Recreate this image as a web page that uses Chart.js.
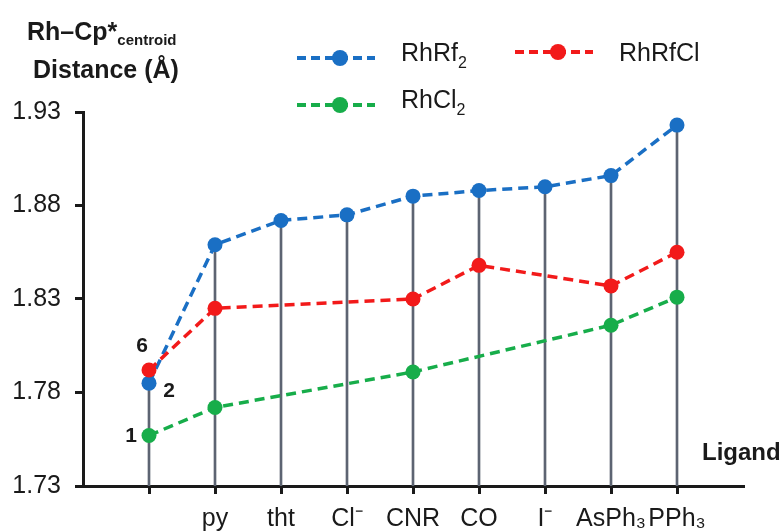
<!DOCTYPE html>
<html lang="en">
<head>
  <meta charset="UTF-8" />
  <title>Rh–Cp* centroid distance by ligand</title>
  <script src="https://cdn.jsdelivr.net/npm/chart.js"></script>
  <style>
    body { margin: 0; background: #fff; font-family: "Liberation Sans", Arial, sans-serif; color: #1a1a1a; }
    #wrap { position: relative; width: 783px; height: 531px; }
    #grafico { position: absolute; left: 0; top: 0; }
    .txt { position: absolute; white-space: nowrap; line-height: 30px; }
    .bold { font-weight: bold; font-size: 25px; }
    .bold sub { font-size: 15px; vertical-align: -5px; }
    .leg { position: absolute; display: flex; align-items: center; font-size: 25px; line-height: 30px; }
    .leg svg { margin-right: 26px; }
    .leg sub { font-size: 16px; vertical-align: -7px; }
  </style>
</head>
<body>
  <div id="wrap">
    <canvas id="grafico" width="783" height="531"></canvas>
    <div class="txt bold" style="left:27px; top:16px;">Rh–Cp*<sub>centroid</sub></div>
    <div class="txt bold" style="left:33px; top:54px;">Distance (Å)</div>
    <div class="txt bold" style="left:702px; top:437px; font-size:24px;">Ligand</div>
    <div id="legenda"></div>
  </div>

  <script>
    // categorias (ligantes) e valores
    const ligantes = ['', 'py', 'tht', 'Cl⁻', 'CNR', 'CO', 'I⁻', 'AsPh₃', 'PPh₃'];
    const rhRf2 = [1.785, 1.859, 1.872, 1.875, 1.885, 1.888, 1.890, 1.896, 1.923];
    const rhRfCl = [1.792, 1.825, null, null, 1.830, 1.848, null, 1.837, 1.855];
    const rhCl2 = [1.757, 1.772, null, null, 1.791, null, null, 1.816, 1.831];
    const yTicks = [1.73, 1.78, 1.83, 1.88, 1.93];
    const rotulos = [
      { serie: 1, i: 0, texto: '6', dx: -7, dy: -24 },
      { serie: 0, i: 0, texto: '2', dx: 20, dy: 8 },
      { serie: 2, i: 0, texto: '1', dx: -18, dy: 1 }
    ];

    const azul = '#1a6fc4';
    const vermelho = '#f21a1a';
    const verde = '#17ad4a';

    const pontos = arr => arr.map((v, i) => ({ x: i, y: v }));
    // linha vertical até o ponto mais alto de cada ligante
    const topo = ligantes.map((_, i) => Math.max(...[rhRf2[i], rhRfCl[i], rhCl2[i]].filter(v => v !== null)));

    const series = [
      { label: 'RhRf<sub>2</sub>', data: rhRf2, cor: azul, order: 1 },
      { label: 'RhRfCl', data: rhRfCl, cor: vermelho, order: 0 },
      { label: 'RhCl<sub>2</sub>', data: rhCl2, cor: verde, order: 2 }
    ];

    // legenda em HTML (duas colunas)
    const posLeg = [[297, 37], [515, 37], [297, 84]];
    const leg = document.getElementById('legenda');
    series.forEach((s, k) => {
      const d = document.createElement('div');
      d.className = 'leg';
      d.style.left = posLeg[k][0] + 'px';
      d.style.top = posLeg[k][1] + 'px';
      d.innerHTML = `<svg width="78" height="20"><line x1="0" y1="10" x2="78" y2="10" stroke="${s.cor}" stroke-width="4" stroke-dasharray="9 5"/><circle cx="43" cy="10" r="8" fill="${s.cor}"/></svg><span>${s.label}</span>`;
      leg.appendChild(d);
    });

    const rotulosPlugin = {
      id: 'rotulos',
      afterDatasetsDraw(chart) {
        const ctx = chart.ctx;
        const xs = chart.scales.x, ys = chart.scales.y;
        ctx.save();
        ctx.font = 'bold 21px "Liberation Sans", Arial, sans-serif';
        ctx.fillStyle = '#1a1a1a';
        ctx.textAlign = 'center';
        ctx.textBaseline = 'middle';
        rotulos.forEach(r => {
          const v = series[r.serie].data[r.i];
          ctx.fillText(r.texto, xs.getPixelForValue(r.i) + r.dx, ys.getPixelForValue(v) + r.dy);
        });
        ctx.restore();
      }
    };

    const fonte = { family: '"Liberation Sans", Arial, sans-serif', size: 25 };

    new Chart(document.getElementById('grafico').getContext('2d'), {
      data: {
        datasets: [
          ...series.map(s => ({
            type: 'line',
            label: s.label,
            data: pontos(s.data),
            borderColor: s.cor,
            backgroundColor: s.cor,
            borderWidth: 3.5,
            borderDash: [10, 6],
            pointRadius: 7.5,
            pointBorderWidth: 0,
            spanGaps: true,
            order: s.order
          })),
          {
            type: 'bar',
            label: 'drop',
            data: pontos(topo),
            backgroundColor: '#5d6472',
            barThickness: 2,
            order: 3
          }
        ]
      },
      options: {
        responsive: false,
        animation: false,
        layout: { padding: { top: 112, right: 40, left: 0, bottom: 0 } },
        plugins: { legend: { display: false }, tooltip: { enabled: false } },
        scales: {
          x: {
            type: 'linear',
            offset: false,
            min: -1,
            max: 9,
            afterBuildTicks: s => { s.ticks = s.ticks.filter(t => t.value >= 0 && t.value <= 8 && Number.isInteger(t.value)); },
            afterFit: s => { s.height = 45; },
            ticks: { stepSize: 1, autoSkip: false, maxRotation: 0, padding: 10, color: '#1a1a1a', font: fonte,
              callback: v => ligantes[v] },
            grid: { drawOnChartArea: false, offset: false, tickLength: 8, lineWidth: 3, color: '#1a1a1a' },
            border: { color: '#1a1a1a', width: 3 }
          },
          y: {
            min: 1.73,
            max: 1.93,
            afterBuildTicks: s => { s.ticks = yTicks.map(v => ({ value: v })); },
            afterFit: s => { s.width = 83; },
            ticks: { padding: 14, color: '#1a1a1a', font: fonte, callback: v => v.toFixed(2) },
            grid: { drawOnChartArea: false, tickLength: 8, lineWidth: 3, color: '#1a1a1a' },
            border: { color: '#1a1a1a', width: 3 }
          }
        }
      },
      plugins: [rotulosPlugin]
    });
  </script>
</body>
</html>
